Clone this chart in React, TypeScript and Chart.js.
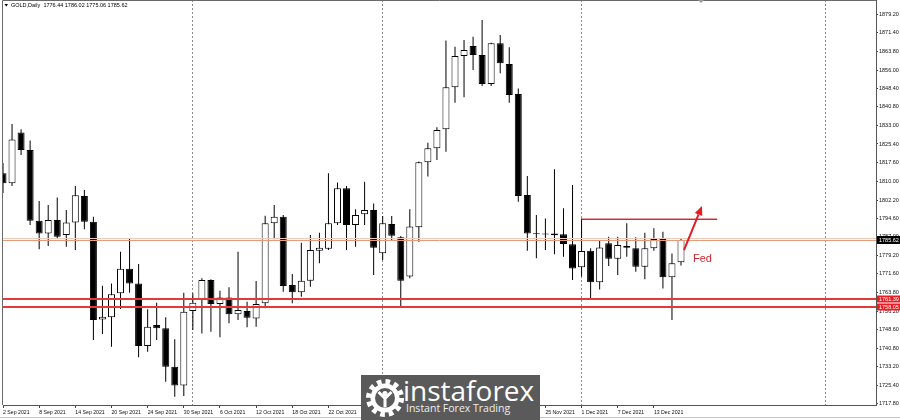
import React, { useEffect, useRef } from 'react';
import { Chart, registerables } from 'chart.js';
Chart.register(...registerables);

// ---- data ----
const candleOpen = [1813.3, 1809.1, 1830.2, 1822.9, 1793.6, 1788.4, 1793.9, 1787.7, 1792.9, 1803.9,
  1793.2, 1752.8, 1753.7, 1763.6, 1773.8, 1767.7, 1741.8, 1750.5, 1749.1, 1733.2,
  1725.4, 1756.3, 1761.2, 1769.1, 1759.2, 1761.9, 1754.9, 1756.3, 1753.2, 1759.5,
  1792.6, 1795.3, 1767.0, 1764.0, 1768.8, 1781.2, 1782.0, 1792.6, 1807.1, 1791.9,
  1796.3, 1798.1, 1780.2, 1792.3, 1786.8, 1770.5, 1790.9, 1817.8, 1823.6, 1831.5,
  1848.9, 1861.8, 1866.0, 1862.2, 1850.2, 1867.1, 1858.5, 1846.1, 1804.3, 1788.1,
  1788.1, 1788.4, 1788.0, 1783.9, 1774.4, 1781.2, 1768.2, 1784.3, 1777.9, 1783.2,
  1782.2, 1774.6, 1782.2, 1786.1, 1770.2, 1776.44];
const candleHigh = [1817.5, 1833.7, 1831.5, 1826.8, 1801.8, 1800.1, 1803.3, 1798.1, 1808.0, 1806.4,
  1795.3, 1766.7, 1767.7, 1780.8, 1786.4, 1775.7, 1757.0, 1759.7, 1753.7, 1744.6,
  1763.8, 1763.6, 1769.8, 1769.4, 1764.7, 1766.1, 1780.8, 1760.1, 1768.7, 1795.7,
  1800.1, 1796.0, 1771.6, 1784.5, 1787.7, 1788.7, 1813.3, 1809.5, 1808.0, 1798.4,
  1809.8, 1800.8, 1795.6, 1795.6, 1787.3, 1798.4, 1818.2, 1825.9, 1832.3, 1868.2,
  1865.7, 1868.4, 1869.8, 1876.7, 1867.3, 1870.5, 1865.4, 1848.4, 1812.2, 1796.0,
  1794.6, 1814.9, 1798.8, 1808.4, 1794.6, 1782.2, 1785.7, 1787.0, 1787.0, 1792.6,
  1786.8, 1788.7, 1790.5, 1789.1, 1780.1, 1786.02];
const candleLow = [1805.1, 1808.0, 1820.8, 1791.9, 1781.8, 1783.2, 1786.4, 1782.9, 1781.5, 1790.1,
  1744.3, 1746.8, 1741.5, 1757.1, 1763.8, 1737.1, 1739.4, 1744.3, 1727.0, 1720.8,
  1721.1, 1748.4, 1747.0, 1747.7, 1745.4, 1751.2, 1752.5, 1749.5, 1749.8, 1757.4,
  1786.0, 1764.2, 1759.5, 1762.2, 1766.3, 1776.0, 1781.5, 1791.9, 1781.5, 1782.9,
  1791.9, 1771.2, 1777.4, 1785.6, 1758.1, 1769.8, 1784.9, 1811.9, 1818.8, 1822.2,
  1842.5, 1844.7, 1856.0, 1849.4, 1849.4, 1854.7, 1842.5, 1801.5, 1781.2, 1778.1,
  1781.5, 1779.8, 1778.7, 1769.1, 1770.5, 1761.1, 1765.2, 1774.9, 1771.2, 1778.7,
  1772.5, 1769.4, 1781.2, 1765.6, 1752.5, 1775.06];
const candleClose = [1809.1, 1827.3, 1822.9, 1793.6, 1788.4, 1793.9, 1787.0, 1792.9, 1804.2, 1793.2,
  1752.5, 1753.9, 1763.2, 1773.8, 1767.7, 1741.8, 1749.8, 1749.1, 1733.2, 1725.4,
  1756.0, 1759.7, 1769.1, 1759.2, 1761.9, 1754.9, 1756.7, 1753.5, 1759.2, 1792.6,
  1795.3, 1766.6, 1764.0, 1768.8, 1781.5, 1782.5, 1792.6, 1807.1, 1791.9, 1796.0,
  1798.1, 1782.5, 1792.6, 1787.4, 1768.8, 1791.2, 1817.8, 1823.6, 1831.2, 1848.9,
  1861.8, 1864.3, 1862.2, 1850.2, 1867.1, 1858.8, 1845.7, 1803.9, 1788.4, 1788.0,
  1787.9, 1787.6, 1784.0, 1773.9, 1781.1, 1768.2, 1782.6, 1777.9, 1783.6, 1782.4,
  1774.6, 1782.2, 1786.1, 1770.2, 1776.0, 1785.62];

const dateTickIndex = [0, 4, 8, 12, 16, 20, 24, 28, 32, 36, 40, 44, 48, 52, 56, 60, 64, 68, 72];
const dateTickLabels = ['2 Sep 2021', '8 Sep 2021', '14 Sep 2021', '20 Sep 2021', '24 Sep 2021',
  '30 Sep 2021', '6 Oct 2021', '12 Oct 2021', '18 Oct 2021', '22 Oct 2021', '28 Oct 2021',
  '3 Nov 2021', '9 Nov 2021', '15 Nov 2021', '19 Nov 2021', '25 Nov 2021', '1 Dec 2021',
  '7 Dec 2021', '13 Dec 2021'];
const priceTicks = [1879.2, 1871.4, 1863.8, 1856.0, 1848.4, 1840.8, 1833.0, 1825.4, 1817.6, 1810.0,
  1802.2, 1794.6, 1787.0, 1779.2, 1771.6, 1763.8, 1756.2, 1748.6, 1740.8, 1733.2, 1725.4, 1717.8];
const monthGridIndex = [21, 42, 64, 91];

const symbolTitle = 'GOLD,Daily';
const bidPrice = 1785.62;
const askPrice = 1786.45;
const supportLevels = [1761.39, 1758.05];
const resistanceLevel = 1794.2;
const resistanceFrom = 64;
const resistanceTo = 79;
const arrowFrom = [75.33, 1781.5];
const arrowTo = [77.32, 1799.7];
const fedLabel = 'Fed';
const fedAt = [76.33, 1777.8];

const X_MIN = 0;
const X_MAX = 96.57;
const Y_MIN = 1717.36;
const Y_MAX = 1885.0;

const AXIS_FONT = '"Liberation Sans", Arial, sans-serif';

const overlayPlugin = {
  id: 'mtOverlay',
  beforeDatasetsDraw(chart: any) {
    const { ctx, chartArea: ca, scales } = chart;
    const x = scales.x;
    ctx.save();
    ctx.strokeStyle = '#8a8a8a';
    ctx.lineWidth = 1;
    ctx.setLineDash([2, 2]);
    monthGridIndex.forEach((g) => {
      const px = Math.floor(x.getPixelForValue(g)) + 0.5;
      ctx.beginPath();
      ctx.moveTo(px, ca.top);
      ctx.lineTo(px, ca.bottom);
      ctx.stroke();
    });
    ctx.restore();
  },
  afterDatasetsDraw(chart: any) {
    const { ctx, chartArea: ca, scales } = chart;
    const x = scales.x;
    const y = scales.y;
    ctx.save();
    ctx.beginPath();
    ctx.rect(ca.left, ca.top, ca.right - ca.left, ca.bottom - ca.top);
    ctx.clip();
    const hl = (price: number, color: string, w: number, x0 = ca.left, x1 = ca.right) => {
      const raw = y.getPixelForValue(price);
      const py = w % 2 === 1 ? Math.floor(raw) + 0.5 : Math.round(raw);
      ctx.strokeStyle = color;
      ctx.lineWidth = w;
      ctx.beginPath();
      ctx.moveTo(x0, py);
      ctx.lineTo(x1, py);
      ctx.stroke();
    };
    hl(askPrice, '#f2c9b6', 1);
    hl(bidPrice, '#e39c7e', 1);
    supportLevels.forEach((p) => hl(p, '#e3393b', 2));
    hl(resistanceLevel, '#d8262b', 1, x.getPixelForValue(resistanceFrom), x.getPixelForValue(resistanceTo));
    hl(resistanceLevel + 0.25, 'rgba(216,38,43,0.45)', 1, x.getPixelForValue(resistanceFrom), x.getPixelForValue(resistanceTo));

    // arrow
    const sx = x.getPixelForValue(arrowFrom[0]);
    const sy = y.getPixelForValue(arrowFrom[1]);
    const ex = x.getPixelForValue(arrowTo[0]);
    const ey = y.getPixelForValue(arrowTo[1]);
    const ang = Math.atan2(ey - sy, ex - sx);
    const headLen = 9;
    const headW = 4;
    const bx = ex - Math.cos(ang) * headLen;
    const by = ey - Math.sin(ang) * headLen;
    ctx.strokeStyle = '#e01e24';
    ctx.fillStyle = '#e01e24';
    ctx.lineWidth = 2;
    ctx.beginPath();
    ctx.moveTo(sx, sy);
    ctx.lineTo(bx, by);
    ctx.stroke();
    ctx.beginPath();
    ctx.moveTo(ex, ey);
    ctx.lineTo(bx + Math.sin(ang) * headW, by - Math.cos(ang) * headW);
    ctx.lineTo(bx - Math.sin(ang) * headW, by + Math.cos(ang) * headW);
    ctx.closePath();
    ctx.fill();

    // Fed label
    ctx.fillStyle = '#c8282d';
    ctx.font = '11px "Liberation Sans", Arial, sans-serif';
    ctx.textBaseline = 'middle';
    ctx.textAlign = 'left';
    ctx.fillText(fedLabel, x.getPixelForValue(fedAt[0]), y.getPixelForValue(fedAt[1]));
    ctx.restore();
  },
  afterDraw(chart: any) {
    const { ctx, chartArea: ca, scales } = chart;
    const y = scales.y;
    ctx.save();
    // frame
    ctx.strokeStyle = '#6a6a6a';
    ctx.lineWidth = 1;
    ctx.beginPath();
    ctx.moveTo(2.5, ca.bottom);
    ctx.lineTo(2.5, 0.5);
    ctx.lineTo(ca.right, 0.5);
    ctx.stroke();
    ctx.strokeStyle = '#c4c4c4';
    ctx.beginPath();
    ctx.moveTo(0, 417.5);
    ctx.lineTo(900, 417.5);
    ctx.stroke();
    // chart-shift marker
    ctx.fillStyle = '#9a9a9a';
    ctx.beginPath();
    ctx.moveTo(698, 0);
    ctx.lineTo(704, 0);
    ctx.lineTo(701, 3);
    ctx.closePath();
    ctx.fill();

    // header
    const last = candleOpen.length - 1;
    ctx.fillStyle = '#000';
    ctx.beginPath();
    ctx.moveTo(4.5, 4);
    ctx.lineTo(8, 4);
    ctx.lineTo(6.25, 6.5);
    ctx.closePath();
    ctx.fill();
    ctx.font = `5.5px ${AXIS_FONT}`;
    ctx.textBaseline = 'middle';
    ctx.textAlign = 'left';
    const hdr = `${symbolTitle}  ${candleOpen[last].toFixed(2)} ${candleHigh[last].toFixed(2)} ${candleLow[last].toFixed(2)} ${candleClose[last].toFixed(2)}`;
    ctx.fillText(hdr, 11, 5.5);

    // price boxes on axis
    const box = (price: number, bg: string, h: number) => {
      const py = Math.round(y.getPixelForValue(price));
      ctx.fillStyle = bg;
      ctx.fillRect(ca.right + 1, py - h / 2, 900 - ca.right - 1, h);
      ctx.fillStyle = '#fff';
      ctx.font = `5.5px ${AXIS_FONT}`;
      ctx.textBaseline = 'middle';
      ctx.fillText(price.toFixed(2), ca.right + 3, py + 0.5);
    };
    box(bidPrice, '#000', 8);
    box(supportLevels[0], '#ec1c24', 7);
    box(supportLevels[1], '#ec1c24', 7);
    ctx.restore();
  },
};

function Logo() {
  return (
    <div style={{ position: 'absolute', left: 361, top: 375, width: 179, height: 45, background: '#5a5a5a', overflow: 'hidden' }}>
      <svg width={44} height={44} viewBox="-22 -22 44 44" style={{ position: 'absolute', left: 2, top: 1 }}>
        <circle r={16.5} fill="none" stroke="#fff" strokeWidth={5} strokeDasharray="4.6 4.04" />
        <circle r={14.5} fill="#fff" />
        <circle r={10} fill="#5a5a5a" />
        <circle cx={0} cy={-4.5} r={2.6} fill="#fff" />
        <path d="M-6.5 -6 L0 0.5 L6.5 -6 M0 0.5 L0 9.5" stroke="#fff" strokeWidth={3} fill="none" />
      </svg>
      <div style={{ position: 'absolute', left: 42, top: -2, color: '#fff', fontFamily: '"Open Sans", sans-serif', fontSize: 28, lineHeight: '34px', whiteSpace: 'nowrap' }}>instaforex</div>
      <div style={{ position: 'absolute', left: 45, top: 26.5, color: '#eeeeee', fontFamily: '"Open Sans", sans-serif', fontSize: 10.5, lineHeight: '13px', whiteSpace: 'nowrap' }}>Instant Forex Trading</div>
    </div>
  );
}

export default function App() {
  const ref = useRef<HTMLCanvasElement>(null);
  useEffect(() => {
    if (!ref.current) return;
    const bodyData = candleOpen.map((o, i) => ({ x: i, y: [o, candleClose[i]] }));
    const wickData = candleLow.map((l, i) => ({ x: i, y: [l, candleHigh[i]] }));
    const bodyColors = candleOpen.map((o, i) => (candleClose[i] >= o ? '#ffffff' : '#000000'));
    const chart = new Chart(ref.current, {
      type: 'bar',
      data: {
        datasets: [
          {
            label: 'wick',
            data: wickData as any,
            backgroundColor: '#000000',
            borderWidth: 0,
            barThickness: 1,
            grouped: false,
            order: 2,
            inflateAmount: 0,
          } as any,
          {
            label: 'body',
            data: bodyData as any,
            backgroundColor: bodyColors,
            borderColor: '#000000',
            borderWidth: 1,
            borderSkipped: false,
            barThickness: 7,
            grouped: false,
            order: 1,
            minBarLength: 1,
            inflateAmount: 0,
          } as any,
        ],
      },
      options: {
        animation: false,
        responsive: false,
        events: [],
        layout: { padding: { left: 3, top: 0, right: 0, bottom: 0 }, autoPadding: false } as any,
        plugins: { legend: { display: false }, tooltip: { enabled: false } },
        scales: {
          x: {
            type: 'linear',
            min: X_MIN,
            max: X_MAX,
            offset: false,
            afterBuildTicks: (s: any) => {
              s.ticks = dateTickIndex.map((v) => ({ value: v }));
            },
            afterFit: (s: any) => {
              s.height = 15;
              s.paddingLeft = 0;
              s.paddingRight = 0;
            },
            ticks: {
              autoSkip: false,
              maxRotation: 0,
              minRotation: 0,
              align: 'start',
              padding: 1,
              color: '#111',
              font: { family: AXIS_FONT, size: 5.2 },
              callback: (_v: any, i: number) => dateTickLabels[i],
            },
            grid: { drawOnChartArea: false, drawTicks: true, tickLength: 3, tickColor: '#444', offset: false },
            border: { display: true, color: '#555', width: 1 },
          } as any,
          y: {
            position: 'right',
            min: Y_MIN,
            max: Y_MAX,
            beginAtZero: false,
            afterBuildTicks: (s: any) => {
              s.ticks = priceTicks.map((v) => ({ value: v }));
            },
            afterFit: (s: any) => {
              s.width = 24;
              s.paddingTop = 0;
              s.paddingBottom = 0;
            },
            ticks: {
              autoSkip: false,
              padding: 1,
              color: '#111',
              font: { family: AXIS_FONT, size: 5.5 },
              callback: (v: any) => Number(v).toFixed(2),
            },
            grid: { drawOnChartArea: false, drawTicks: true, tickLength: 2, tickColor: '#444' },
            border: { display: true, color: '#555', width: 1 },
          } as any,
        },
      },
      plugins: [overlayPlugin as any],
    });
    return () => chart.destroy();
  }, []);

  return (
    <div style={{ position: 'fixed', left: 0, top: 0, width: 900, height: 420, background: '#ffffff', overflow: 'hidden' }}>
      <canvas ref={ref} width={900} height={420} style={{ display: 'block', width: 900, height: 420 }} />
      <Logo />
    </div>
  );
}
